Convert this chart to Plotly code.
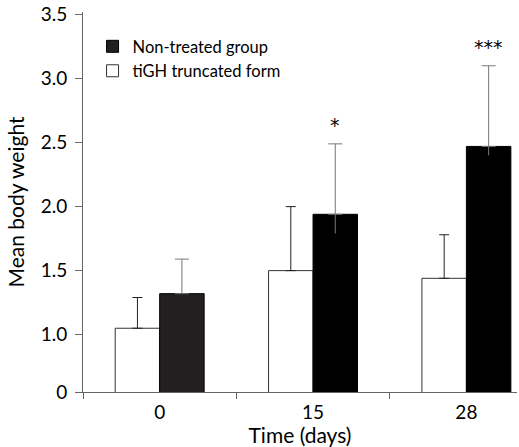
import plotly.graph_objects as go

categories = ["0", "15", "28"]
tigh_mean = [1.05, 1.50, 1.44]
tigh_err = [0.24, 0.50, 0.34]
nontreated_mean = [1.32, 1.94, 2.47]
nontreated_err = [0.27, 0.55, 0.63]
nontreated_err_inside = [0.0, 0.15, 0.07]
significance = ["", "*", "***"]
ytick_vals = [0.552, 1.0, 1.5, 2.0, 2.5, 3.0, 3.5]
ytick_text = ["0", "1.0", "1.5", "2.0", "2.5", "3.0", "3.5"]

FONT = "Lato, 'Noto Sans', sans-serif"

fig = go.Figure()
fig.add_trace(go.Bar(
    x=categories, y=tigh_mean, name="tiGH truncated form",
    offsetgroup="a",
    marker=dict(color="white", line=dict(color="#333333", width=1)),
    error_y=dict(type="data", array=tigh_err, arrayminus=[0, 0, 0], symmetric=False,
                 color="#222222", thickness=1, width=5),
))
fig.add_trace(go.Bar(
    x=categories, y=nontreated_mean, name="Non-treated group",
    offsetgroup="b",
    marker=dict(color=["#231f20", "#000000", "#000000"], line=dict(color="#000000", width=1)),
    error_y=dict(type="data", array=nontreated_err, arrayminus=[0, 0, 0], symmetric=False,
                 color="#777777", thickness=1, width=7),
))
fig.add_trace(go.Bar(
    x=categories, y=nontreated_mean, showlegend=False, hoverinfo="skip",
    offsetgroup="b",
    marker=dict(color="rgba(0,0,0,0)", line=dict(width=0)),
    error_y=dict(type="data", array=[0, 0, 0], arrayminus=nontreated_err_inside, symmetric=False,
                 color="#777777", thickness=1, width=0),
))

for i, s in enumerate(significance):
    if s:
        fig.add_annotation(
            x=i, y=nontreated_mean[i] + nontreated_err[i], xref="x", yref="y",
            text=s, showarrow=False, xshift=22, yshift=6, yanchor="bottom",
            font=dict(family="'DejaVu Sans', sans-serif", size=19, color="#000000"),
        )

fig.update_layout(
    width=519, height=447,
    margin=dict(l=83, r=2, t=12, b=55),
    plot_bgcolor="white", paper_bgcolor="white",
    barmode="group", bargap=0.42, bargroupgap=0,
    font=dict(family=FONT, size=18, color="#000000"),
    showlegend=True,
    legend=dict(
        x=0.022, y=0.955, xanchor="left", yanchor="top",
        traceorder="reversed", bgcolor="rgba(0,0,0,0)",
        font=dict(family=FONT, size=16.5, color="#000000"),
        itemwidth=30, tracegroupgap=0,
    ),
)
fig.update_xaxes(
    type="category", range=[-0.5, 2.33], automargin=False,
    showline=True, linecolor="#666666", linewidth=1,
    ticks="outside", ticklen=6, tickcolor="#666666", tickson="boundaries",
    showgrid=False, zeroline=False, ticklabelstandoff=3,
    tickfont=dict(family=FONT, size=19),
    title=dict(text="Time (days)", font=dict(family=FONT, size=21), standoff=0),
)
fig.update_yaxes(
    range=[0.552, 3.52], automargin=False,
    tickvals=ytick_vals, ticktext=ytick_text,
    showline=True, linecolor="#666666", linewidth=1,
    ticks="outside", ticklen=7, tickcolor="#666666",
    showgrid=False, zeroline=False, ticklabelstandoff=4,
    tickfont=dict(family=FONT, size=19),
    title=dict(text="Mean body weight", font=dict(family=FONT, size=21), standoff=10),
)

fig.write_html("out.html", config={"displayModeBar": False},
               post_script="document.body.style.margin='0';")
